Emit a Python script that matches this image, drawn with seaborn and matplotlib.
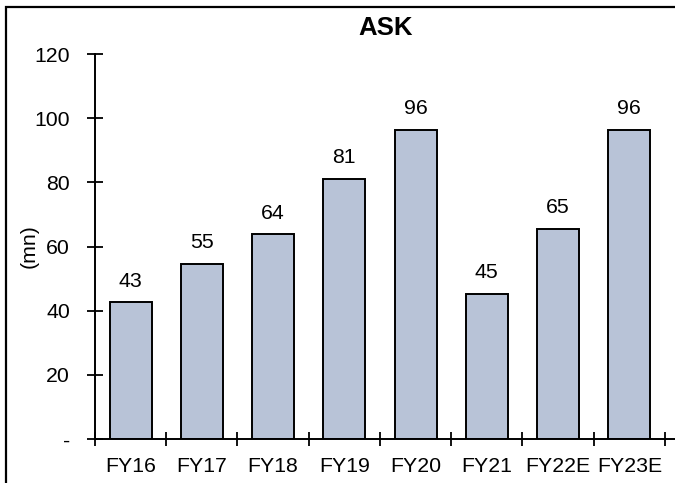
import matplotlib
matplotlib.use("Agg")
import matplotlib.pyplot as plt
import seaborn as sns
import pandas as pd
from matplotlib.patches import Rectangle
from matplotlib.ticker import FixedLocator

categories = ["FY16", "FY17", "FY18", "FY19", "FY20", "FY21", "FY22E", "FY23E"]
values = [42.6, 54.6, 63.8, 81.1, 96.4, 45.3, 65.4, 96.4]
y_ticks = [0, 20, 40, 60, 80, 100, 120]
y_tick_labels = ["-", "20", "40", "60", "80", "100", "120"]

sns.set_theme(style="white")
plt.rcParams["font.family"] = ["Liberation Sans", "DejaVu Sans"]

df = pd.DataFrame({"cat": categories, "val": values})

fig = plt.figure(figsize=(6.75, 4.83), dpi=100)
ax_left, ax_bottom_px, ax_top_px = 95, 439, 54
ax = fig.add_axes([ax_left/675, 1 - ax_bottom_px/483, 1 - ax_left/675 + 0.002,
                   (ax_bottom_px - ax_top_px)/483])

sns.barplot(data=df, x="cat", y="val", color="#B8C3D7", edgecolor="black",
            linewidth=1.4, width=0.59, saturation=1, ax=ax)

for c in ax.containers:
    ax.bar_label(c, fmt="{:.0f}", padding=8.5, fontsize=15.3, color="black")

n = len(categories)
ax.set_ylim(0, 120)
ax.set_xlim(-0.5, n - 0.5 + 0.16)
ax.set_yticks(y_ticks)
ax.set_yticklabels(y_tick_labels, fontsize=15.3, color="black")
ax.set_xticks(range(n))
ax.set_xticklabels(categories, fontsize=15.3, color="black")
ax.xaxis.set_minor_locator(FixedLocator([i + 0.5 for i in range(-1, n)]))
ax.tick_params(axis="x", which="major", length=0, pad=13)
ax.tick_params(axis="x", which="minor", length=10, width=1.3, direction="inout", color="black", bottom=True)
ax.tick_params(axis="y", which="major", length=12, width=1.3, direction="inout", color="black", left=True, pad=12)

for s in ["top", "right"]:
    ax.spines[s].set_visible(False)
for s in ["left", "bottom"]:
    ax.spines[s].set_color("black")
    ax.spines[s].set_linewidth(1.4)

ax.set_xlabel("")
ax.set_ylabel("(mn)", fontsize=15.3, color="black", labelpad=-3)
ax.set_title("ASK", fontsize=18.5, fontweight="bold", color="black", pad=14)

fig.patches.append(Rectangle((6/675, -0.1), 1.2, 1 - 7/483 + 0.1, transform=fig.transFigure,
                             fill=False, edgecolor="black", linewidth=1.6, zorder=0))

fig.savefig("out.png", dpi=100)
